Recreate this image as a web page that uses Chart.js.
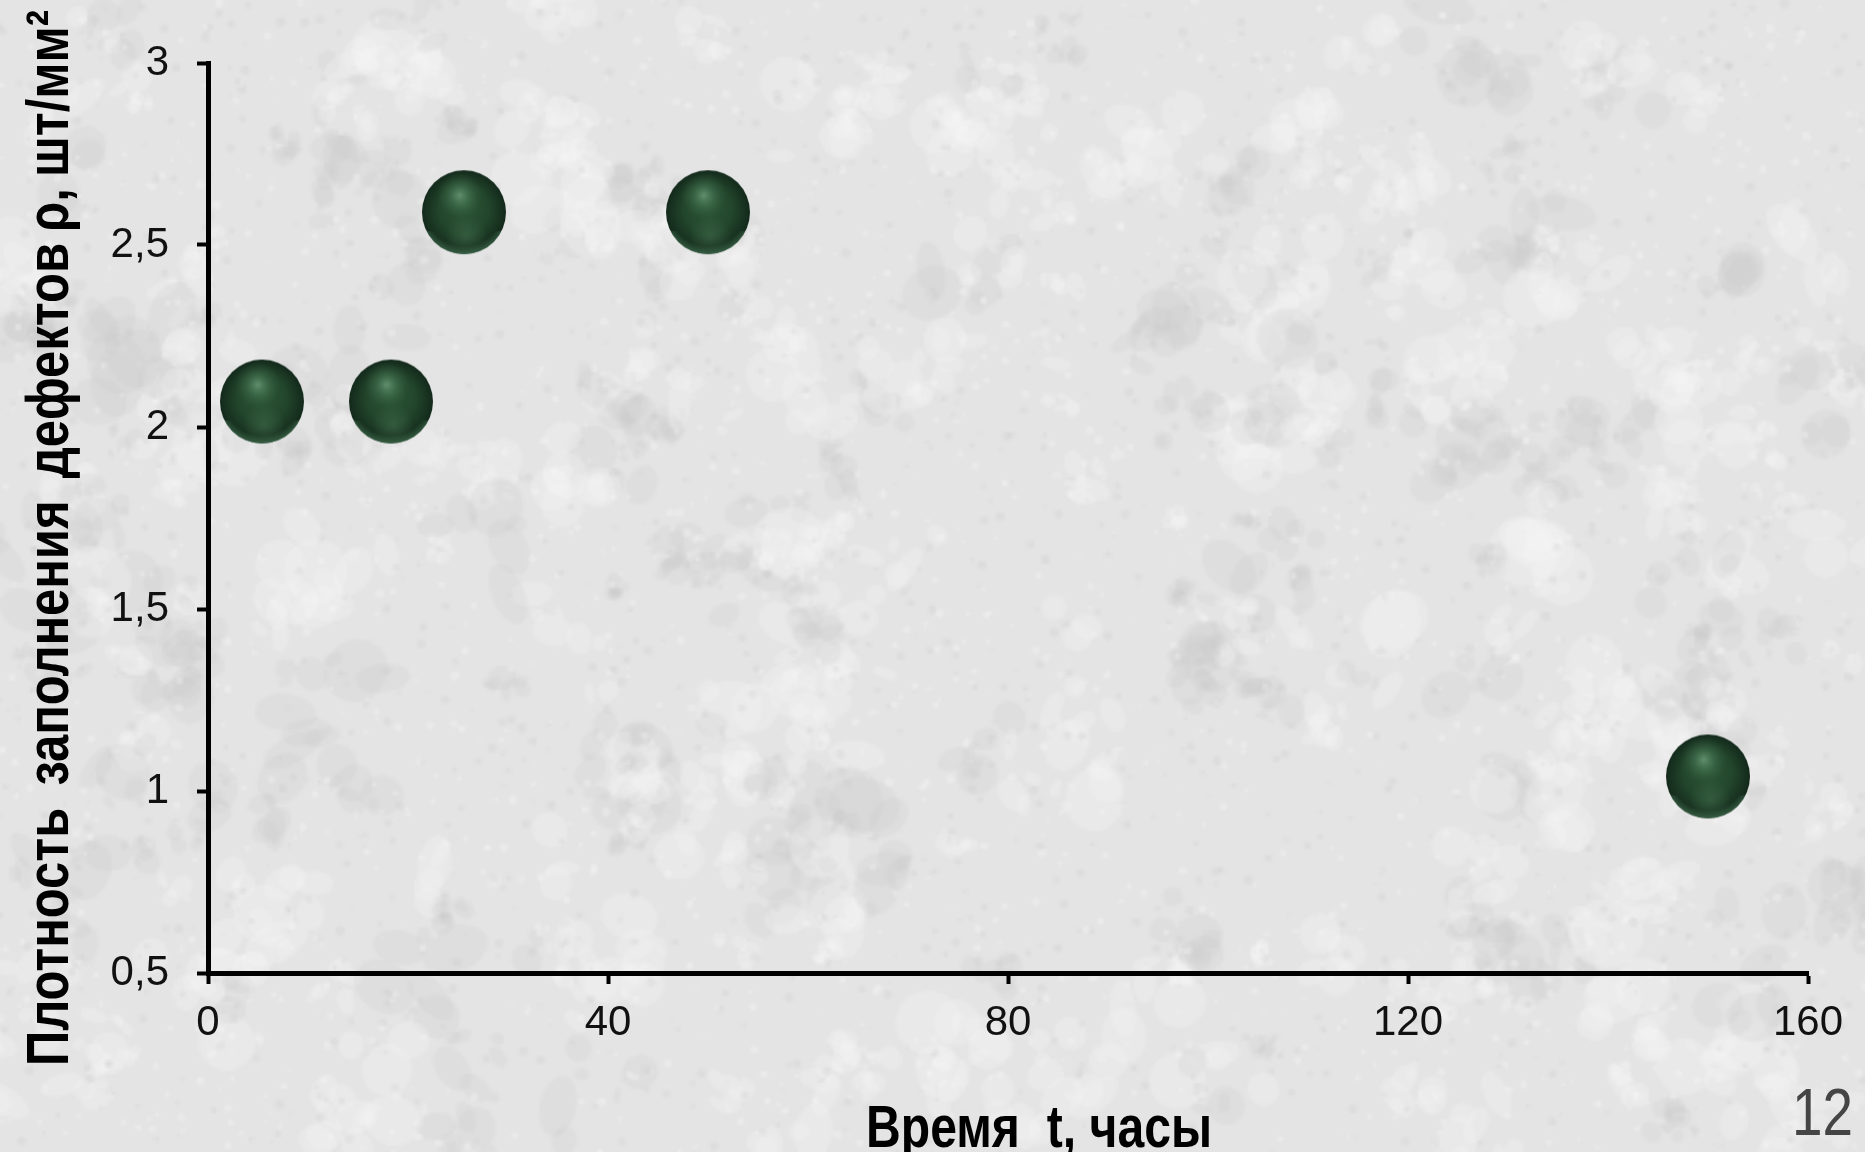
<!DOCTYPE html>
<html lang="ru">
<head>
<meta charset="utf-8">
<title>Плотность заполнения дефектов</title>
<script src="https://cdn.jsdelivr.net/npm/chart.js@4.4.1/dist/chart.umd.min.js"></script>
<style>
  html, body { margin: 0; padding: 0; width: 1865px; height: 1152px; overflow: hidden; background: #e4e4e4; }
  #bg, #chart { position: absolute; left: 0; top: 0; }
</style>
</head>
<body>
<canvas id="bg" width="1865" height="1152"></canvas>
<canvas id="chart" width="1865" height="1152"></canvas>
<script>
// Measurements: time t (hours) and defect filling density ρ (pcs/mm²)
const timeHours = [5.4, 18.3, 25.6, 50, 150];
const density   = [2.07, 2.07, 2.59, 2.59, 1.04];

const xTickValues = [0, 40, 80, 120, 160];
const yTickLabels = { 0.5: '0,5', 1: '1', 1.5: '1,5', 2: '2', 2.5: '2,5', 3: '3' };

const xTitle = 'Время  t, часы';
const yTitle = 'Плотность  заполнения  дефектов ρ, шт/мм²';
const slideNumber = '12';

const SANS = '"Liberation Sans", Arial, Helvetica, sans-serif';

// ---- stone-like backdrop: painted small, then enlarged for softness ----
(function drawBackdrop() {
  const c = document.getElementById('bg');
  const g = c.getContext('2d');
  const small = document.createElement('canvas');
  small.width = 622; small.height = 384;
  const s2 = small.getContext('2d');
  s2.fillStyle = '#e4e4e4';
  s2.fillRect(0, 0, small.width, small.height);
  let s = 24681;
  const rnd = () => { s = (s * 1103515245 + 12345) % 2147483648; return s / 2147483648; };
  // irregular blotches built from clusters of small ellipses
  for (let k = 0; k < 320; k++) {
    const bx = rnd() * small.width, by = rnd() * small.height;
    const light = rnd() < 0.55;
    const n = 4 + Math.floor(rnd() * 9);
    const spread = 3 + rnd() * 16;
    for (let i = 0; i < n; i++) {
      const x = bx + (rnd() - 0.5) * spread * 2, y = by + (rnd() - 0.5) * spread * 2;
      const r = 1 + rnd() * spread * 0.6;
      s2.fillStyle = light ? 'rgba(246,246,246,0.3)' : 'rgba(198,198,198,0.2)';
      s2.beginPath();
      s2.ellipse(x, y, r, r * (0.4 + rnd() * 0.7), rnd() * Math.PI, 0, Math.PI * 2);
      s2.fill();
    }
  }
  for (let i = 0; i < 3500; i++) {
    const x = rnd() * small.width, y = rnd() * small.height, r = 0.3 + rnd() * 1.2;
    s2.fillStyle = rnd() < 0.55 ? 'rgba(248,248,248,0.35)' : 'rgba(195,195,195,0.22)';
    s2.beginPath();
    s2.arc(x, y, r, 0, Math.PI * 2);
    s2.fill();
  }
  g.imageSmoothingEnabled = true;
  g.drawImage(small, 0, 0, c.width, c.height);
})();

// ---- glossy green sphere used as the point marker ----
function makeSphere(r) {
  const size = Math.ceil(r * 2 + 4);
  const c = document.createElement('canvas');
  c.width = size; c.height = size;
  const g = c.getContext('2d');
  const cx = size / 2, cy = size / 2;
  g.save();
  g.beginPath(); g.arc(cx, cy, r, 0, Math.PI * 2); g.clip();
  let grad = g.createRadialGradient(cx, cy - r * 0.2, 0, cx, cy, r);
  grad.addColorStop(0, '#2d5837');
  grad.addColorStop(0.6, '#22452b');
  grad.addColorStop(1, '#13291b');
  g.fillStyle = grad; g.fillRect(0, 0, size, size);
  // soft reflection low on the sphere
  grad = g.createRadialGradient(cx + r * 0.05, cy + r * 0.55, 0, cx + r * 0.05, cy + r * 0.55, r * 0.5);
  grad.addColorStop(0, 'rgba(80,125,92,0.4)');
  grad.addColorStop(1, 'rgba(80,125,92,0)');
  g.fillStyle = grad; g.fillRect(0, 0, size, size);
  // lighter rim along the bottom edge
  grad = g.createRadialGradient(cx, cy - r * 0.12, r * 0.92, cx, cy - r * 0.12, r * 1.14);
  grad.addColorStop(0, 'rgba(75,125,90,0)');
  grad.addColorStop(1, 'rgba(75,125,90,0.7)');
  g.fillStyle = grad; g.fillRect(0, cy + r * 0.45, size, size);
  // broad soft highlight
  grad = g.createRadialGradient(cx - r * 0.1, cy - r * 0.4, 0, cx - r * 0.1, cy - r * 0.4, r * 0.55);
  grad.addColorStop(0, 'rgba(112,160,125,0.8)');
  grad.addColorStop(0.45, 'rgba(85,135,100,0.38)');
  grad.addColorStop(1, 'rgba(60,100,70,0)');
  g.fillStyle = grad; g.fillRect(0, 0, size, size);
  g.restore();
  return c;
}
const sphere = makeSphere(42);

// ---- axis titles and slide number ----
function fitText(ctx, text, x, y, width, angle) {
  const w = ctx.measureText(text).width;
  ctx.save();
  ctx.translate(x, y);
  if (angle) ctx.rotate(angle);
  ctx.scale(width / w, 1);
  ctx.fillText(text, 0, 0);
  ctx.restore();
}
const titlesPlugin = {
  id: 'titles',
  afterDraw(chart) {
    const ctx = chart.ctx;
    ctx.save();
    ctx.fillStyle = '#000';
    ctx.textAlign = 'left';
    ctx.textBaseline = 'alphabetic';
    ctx.font = 'bold 59px ' + SANS;
    ctx.wordSpacing = '-3px';
    fitText(ctx, yTitle, 68, 1066, 1056, -Math.PI / 2);
    ctx.wordSpacing = '0px';
    ctx.font = 'bold 60px ' + SANS;
    fitText(ctx, xTitle, 866, 1147, 346, 0);
    ctx.fillStyle = '#454545';
    ctx.font = '66px ' + SANS;
    fitText(ctx, slideNumber, 1792, 1135, 61, 0);
    ctx.restore();
  }
};

new Chart(document.getElementById('chart'), {
  type: 'scatter',
  data: {
    datasets: [{
      data: timeHours.map((t, i) => ({ x: t, y: density[i] })),
      pointStyle: sphere,
      pointRadius: 42,
      pointHoverRadius: 42,
      clip: false
    }]
  },
  options: {
    responsive: false,
    animation: false,
    events: [],
    layout: { padding: { left: 0, top: 63, right: 57, bottom: 0 } },
    plugins: { legend: { display: false }, tooltip: { enabled: false } },
    scales: {
      x: {
        type: 'linear',
        min: 0, max: 160,
        afterBuildTicks: s => { s.ticks = xTickValues.map(v => ({ value: v })); },
        afterFit: s => { s.height = 1152 - 973; },
        border: { display: true, color: '#000', width: 5 },
        grid: { drawOnChartArea: false, drawTicks: true, tickLength: 11, tickColor: '#000', tickWidth: 4 },
        ticks: { color: '#111', padding: 14, font: { family: SANS, size: 42 }, maxRotation: 0 }
      },
      y: {
        type: 'linear',
        min: 0.5, max: 3,
        afterBuildTicks: s => { s.ticks = Object.keys(yTickLabels).map(Number).sort((a, b) => a - b).map(v => ({ value: v })); },
        afterFit: s => { s.width = 208; },
        border: { display: true, color: '#000', width: 5 },
        grid: { drawOnChartArea: false, drawTicks: true, tickLength: 11, tickColor: '#000', tickWidth: 4 },
        ticks: { color: '#111', padding: 28, font: { family: SANS, size: 42 }, callback: v => yTickLabels[v] }
      }
    }
  },
  plugins: [titlesPlugin]
});
</script>
</body>
</html>
